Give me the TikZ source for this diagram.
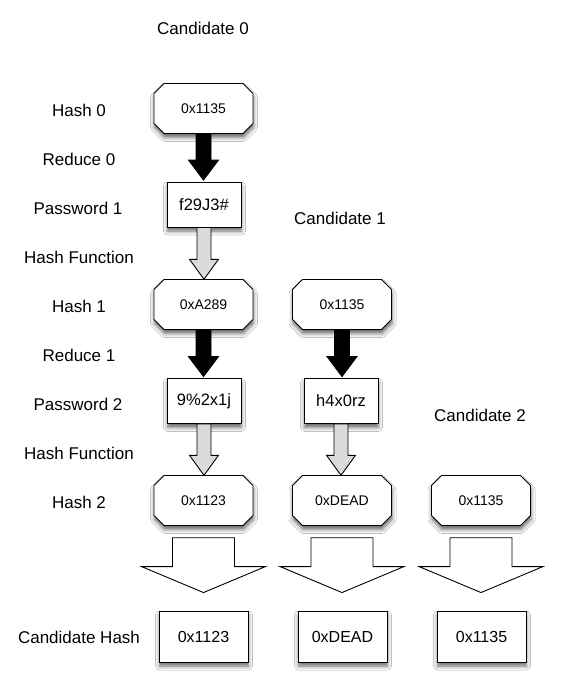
\documentclass[tikz,border=0pt]{standalone}
\usepackage{fontspec}
\setmainfont{Liberation Sans}
\usetikzlibrary{calc,shadows.blur}
\definecolor{arrowgray}{RGB}{218,218,218}
\tikzset{
  softshadow/.style={blur shadow={shadow xshift=0.5pt, shadow yshift=-4pt, shadow blur radius=4pt, shadow opacity=60}},
  octshape/.style={draw=black, fill=white, line width=0.9pt, softshadow},
  hashtxt/.style={font=\fontsize{14}{16}\selectfont, minimum width=99pt, minimum height=50pt, inner sep=0pt},
  pwbox/.style={draw=black, fill=white, line width=0.9pt, softshadow, minimum width=74pt, minimum height=45pt, inner sep=0pt, font=\fontsize{16.5}{19}\selectfont},
  candbox/.style={draw=black, fill=white, line width=0.9pt, softshadow, minimum width=89pt, minimum height=51pt, inner sep=0pt, font=\fontsize{16}{19}\selectfont},
  lbl/.style={font=\fontsize{17}{20}\selectfont, inner sep=0pt},
  blockarrow/.style n args={5}{to path={let \p1=(\tikztostart), \p2=(\tikztotarget) in
    (\x1-#1pt,\y1-#4pt) -- (\x1-#1pt,\y2+#3pt+#5pt) -- (\x1-#2pt,\y2+#3pt+#5pt) -- (\x1,\y2+#5pt)
    -- (\x1+#2pt,\y2+#3pt+#5pt) -- (\x1+#1pt,\y2+#3pt+#5pt) -- (\x1+#1pt,\y1-#4pt) -- cycle}},
  blackarrow/.style={draw=black, fill=black, line width=0.9pt, line join=miter, blockarrow={7.5}{15}{20}{0}{1.5}},
  grayarrow/.style={draw=black, fill=arrowgray, line width=0.9pt, line join=miter, blockarrow={7}{14.5}{20}{0}{0}},
  bigarrow/.style={draw=black, fill=white, line width=0.9pt, line join=miter, blockarrow={31}{62}{26}{12}{18}},
}
\newcommand\hashbox[4]{%
  \path[octshape, shift={(#2,#3)}] (-49.5,-15) -- (-39.5,-25) -- (39.5,-25) -- (49.5,-15)
     -- (49.5,15) -- (39.5,25) -- (-39.5,25) -- (-49.5,15) -- cycle;
  \node[hashtxt] (#1) at (#2,#3) {#4};
}
\begin{document}
\begin{tikzpicture}[x=1pt,y=-1pt]
\useasboundingbox[fill=white] (0,0) rectangle (570,695);

% left labels
\node[lbl] (lh0) at (79,110) {Hash 0};
\node[lbl] (lr0) at (79,159) {Reduce 0};
\node[lbl] (lp1) at (78,208) {Password 1};
\node[lbl] (lf1) at (79,257) {Hash Function};
\node[lbl] (lh1) at (79,306) {Hash 1};
\node[lbl] (lr1) at (79,355) {Reduce 1};
\node[lbl] (lp2) at (78,404) {Password 2};
\node[lbl] (lf2) at (79,453) {Hash Function};
\node[lbl] (lh2) at (79,502) {Hash 2};
\node[lbl] (lch) at (79,637) {Candidate Hash};

\node[lbl] (cand0) at (203,28) {Candidate 0};
\node[lbl] (cand1) at (340,218) {Candidate 1};
\node[lbl] (cand2) at (480,415) {Candidate 2};

% column 1
\hashbox{h0}{203.5}{108.5}{0x1135}
\node[pwbox] (p1) at (204,204.5) {f29J3\#};
\hashbox{h1a}{203.5}{304.5}{0xA289}
\node[pwbox] (p2a) at (204,401) {9\%2x1j};
\hashbox{h2a}{203.5}{500.5}{0x1123}

% column 2
\hashbox{h1b}{342}{304.5}{0x1135}
\node[pwbox] (p2b) at (341,401) {h4x0rz};
\hashbox{h2b}{342}{500.5}{0xDEAD}

% column 3
\hashbox{h2c}{481}{500.5}{0x1135}

% candidate hashes
\node[candbox] (c1) at (203.5,636.5) {0x1123};
\node[candbox] (c2) at (342.5,636.5) {0xDEAD};
\node[candbox] (c3) at (481.5,636.5) {0x1135};

% arrows
\draw[blackarrow] (h0.south) to (p1.north);
\draw[grayarrow] (p1.south) to (h1a.north);
\draw[blackarrow] (h1a.south) to (p2a.north);
\draw[grayarrow] (p2a.south) to (h2a.north);
\draw[blackarrow] (h1b.south) to (p2b.north);
\draw[grayarrow] (p2b.south) to (h2b.north);

\draw[bigarrow] (h2a.south) to (c1.north);
\draw[bigarrow] (h2b.south) to (c2.north);
\draw[bigarrow] (h2c.south) to (c3.north);
\end{tikzpicture}
\end{document}
